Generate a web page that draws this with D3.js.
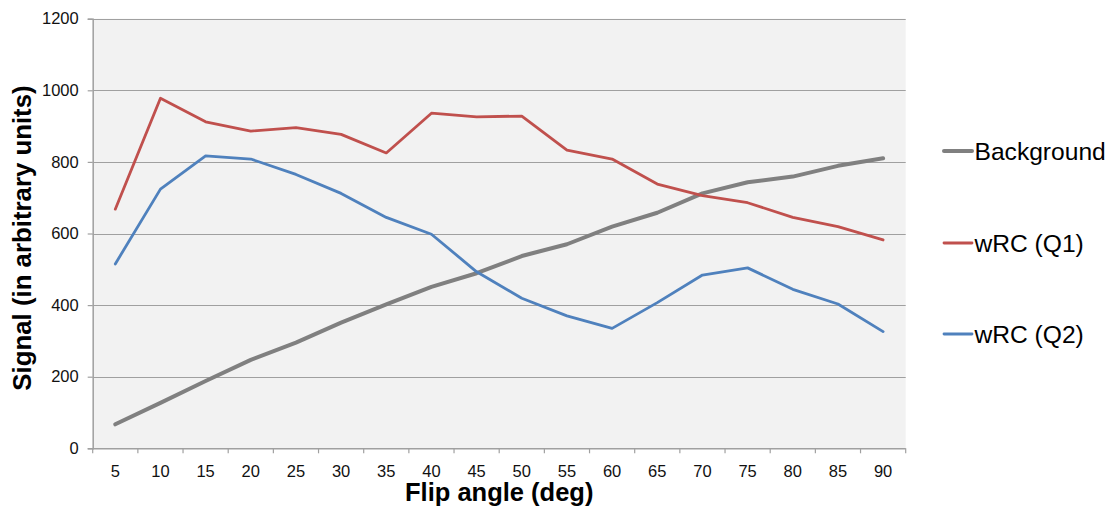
<!DOCTYPE html>
<html>
<head>
<meta charset="utf-8">
<script src="https://cdn.jsdelivr.net/npm/d3@7"></script>
<style>
  html, body { margin: 0; padding: 0; background: #fff; }
  svg { display: block; font-family: "Liberation Sans", Arial, sans-serif; }
</style>
</head>
<body>
<svg id="chart" width="1111" height="507"></svg>
<script>
// Flip angles (deg) on the category axis
const flipAngles = [5, 10, 15, 20, 25, 30, 35, 40, 45, 50, 55, 60, 65, 70, 75, 80, 85, 90];

// Signal values (arbitrary units)
const background = [67, 127, 188, 247, 295, 351, 402, 451, 489, 537, 570, 619, 658, 712, 743, 759, 789, 810];
const wrcQ1      = [668, 978, 912, 886, 896, 877, 825, 936, 926, 928, 833, 808, 738, 706, 686, 645, 619, 582];
const wrcQ2      = [515, 724, 817, 808, 765, 712, 645, 598, 493, 419, 370, 335, 407, 484, 504, 444, 403, 326];

const yTicks = [0, 200, 400, 600, 800, 1000, 1200];

const seriesNames = ["Background", "wRC (Q1)", "wRC (Q2)"];
const seriesValues = [background, wrcQ1, wrcQ2];
const seriesColors = ["#808080", "#C0504D", "#4F81BD"];
const seriesWidths = [4, 2.8, 2.8];

const svg = d3.select("#chart");

const plot = { left: 92.7, right: 905.7, top: 18.7, bottom: 448.3 };

const x = d3.scaleBand()
  .domain(flipAngles)
  .range([plot.left, plot.right])
  .padding(0);

const y = d3.scaleLinear()
  .domain([0, 1200])
  .range([plot.bottom, plot.top]);

// plot background
svg.append("rect")
  .attr("x", plot.left)
  .attr("y", plot.top)
  .attr("width", plot.right - plot.left)
  .attr("height", plot.bottom - plot.top)
  .attr("fill", "#F2F2F2");

// horizontal gridlines
svg.append("g")
  .selectAll("line")
  .data(yTicks.filter(d => d > 0))
  .join("line")
  .attr("x1", plot.left)
  .attr("x2", plot.right)
  .attr("y1", d => Math.round(y(d)) + 0.5)
  .attr("y2", d => Math.round(y(d)) + 0.5)
  .attr("stroke", "#A0A0A0")
  .attr("stroke-width", 1.2);

// y axis
const yAxis = svg.append("g")
  .attr("transform", `translate(${plot.left},0)`)
  .call(d3.axisLeft(y).tickValues(yTicks).tickSize(5).tickPadding(9).tickFormat(d3.format("d")));
yAxis.select(".domain").attr("stroke", "#A0A0A0").attr("stroke-width", 1.5);
yAxis.selectAll(".tick line").attr("stroke", "#A0A0A0").attr("stroke-width", 1.2);
yAxis.selectAll(".tick text")
  .attr("font-size", 16.5)
  .attr("fill", "#111")
  .attr("font-family", "'Liberation Sans', Arial, sans-serif");

// x axis: tick marks at band edges, labels at band centres
const xAxisG = svg.append("g");
xAxisG.append("line")
  .attr("x1", plot.left).attr("x2", plot.right)
  .attr("y1", plot.bottom + 0.5).attr("y2", plot.bottom + 0.5)
  .attr("stroke", "#A0A0A0").attr("stroke-width", 1.5);
const edges = flipAngles.map(d => x(d)).concat([x(flipAngles[flipAngles.length - 1]) + x.bandwidth()]);
xAxisG.selectAll("line.edge")
  .data(edges)
  .join("line")
  .attr("class", "edge")
  .attr("x1", d => d).attr("x2", d => d)
  .attr("y1", plot.bottom).attr("y2", plot.bottom + 5)
  .attr("stroke", "#A0A0A0").attr("stroke-width", 1.2);
xAxisG.selectAll("text")
  .data(flipAngles)
  .join("text")
  .attr("x", d => x(d) + x.bandwidth() / 2)
  .attr("y", 476.5)
  .attr("text-anchor", "middle")
  .attr("font-size", 16.5)
  .attr("fill", "#111")
  .text(d => d);

// series lines
const line = d3.line()
  .x((d, i) => x(flipAngles[i]) + x.bandwidth() / 2)
  .y(d => y(d));

svg.append("g")
  .selectAll("path")
  .data(seriesValues)
  .join("path")
  .attr("d", d => line(d))
  .attr("fill", "none")
  .attr("stroke", (d, i) => seriesColors[i])
  .attr("stroke-width", (d, i) => seriesWidths[i])
  .attr("stroke-linejoin", "round")
  .attr("stroke-linecap", "round");

// axis titles
svg.append("text")
  .attr("x", (plot.left + plot.right) / 2)
  .attr("y", 501)
  .attr("text-anchor", "middle")
  .attr("font-size", 25.5)
  .attr("font-weight", "bold")
  .attr("fill", "#000")
  .text("Flip angle (deg)");

svg.append("text")
  .attr("transform", "translate(31,238) rotate(-90)")
  .attr("text-anchor", "middle")
  .attr("font-size", 25.8)
  .attr("font-weight", "bold")
  .attr("fill", "#000")
  .text("Signal (in arbitrary units)");

// legend
const legendY = [151, 243, 334];
const legend = svg.append("g")
  .selectAll("g")
  .data(seriesNames)
  .join("g")
  .attr("transform", (d, i) => `translate(0,${legendY[i]})`);
legend.append("line")
  .attr("x1", 944).attr("x2", 972)
  .attr("y1", 0).attr("y2", 0)
  .attr("stroke", (d, i) => seriesColors[i])
  .attr("stroke-width", (d, i) => seriesWidths[i])
  .attr("stroke-linecap", "round");
legend.append("text")
  .attr("x", 974.5)
  .attr("y", 0)
  .attr("dy", "0.35em")
  .attr("font-size", 24.6)
  .attr("fill", "#000")
  .text(d => d);
</script>
</body>
</html>
